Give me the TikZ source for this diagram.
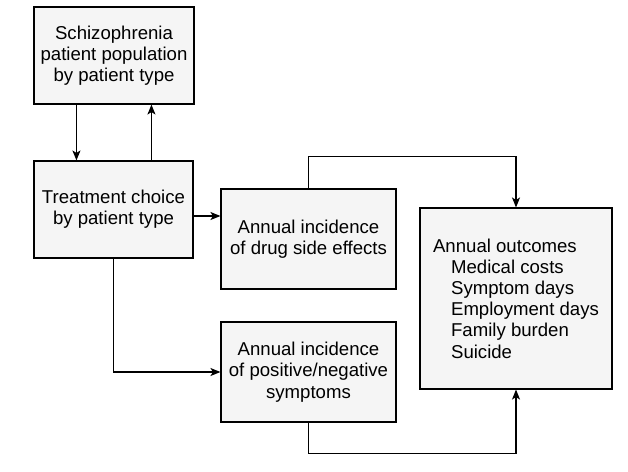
\documentclass[tikz,border=0pt]{standalone}
\usepackage{fontspec}
\setmainfont{Liberation Sans}
\usetikzlibrary{arrows.meta}
\definecolor{boxfill}{HTML}{F5F5F5}
\begin{document}
\begin{tikzpicture}[x=1pt,y=-1pt,
  box/.style={draw=black,line width=1.1pt,fill=boxfill,rectangle,inner sep=0pt,
    align=center,font=\fontsize{18.6}{21.2}\selectfont},
  arr/.style={line width=1.1pt,-{Stealth[length=10pt,width=8pt,inset=2.5pt]}},
  ln/.style={line width=1.1pt}]
\useasboundingbox (0,0) rectangle (628,471);
\node[box,minimum width=160pt,minimum height=97pt] (b1) at (114,55.5)
  {Schizophrenia\\patient population\\by patient type};
\node[box,minimum width=159pt,minimum height=97pt] (b2) at (113.5,209.5)
  {Treatment choice\\by patient type};
\node[box,minimum width=175pt,minimum height=100pt] (b3) at (308.5,239)
  {Annual incidence\\of drug side effects};
\node[box,minimum width=175pt,minimum height=100pt] (b4) at (308.5,372)
  {Annual incidence\\of positive/negative\\symptoms};
\node[box,align=left,minimum width=192pt,minimum height=181pt] (b5) at (516,298.5)
  {Annual outcomes\\\hspace*{18pt}Medical costs\\\hspace*{18pt}Symptom days\\\hspace*{18pt}Employment days\\\hspace*{18pt}Family burden\\\hspace*{18pt}Suicide};
\draw[arr] ([xshift=43pt]b1.south west) -- ([xshift=43pt]b2.north west);
\draw[arr] ([xshift=118pt]b2.north west) -- ([xshift=118pt]b1.south west);
\draw[arr] ([yshift=-6.5pt]b2.east) -- ([yshift=-6.5pt]b2.east -| b3.west);
\draw[arr] (b3.north) -- ++(0,-32) coordinate (t1) -| (b5.north);
\draw[arr] (b2.south) |- (b4.west);
\draw[arr] (b4.south) -- ++(0,31) coordinate (t2) -| (b5.south);
\end{tikzpicture}
\end{document}
